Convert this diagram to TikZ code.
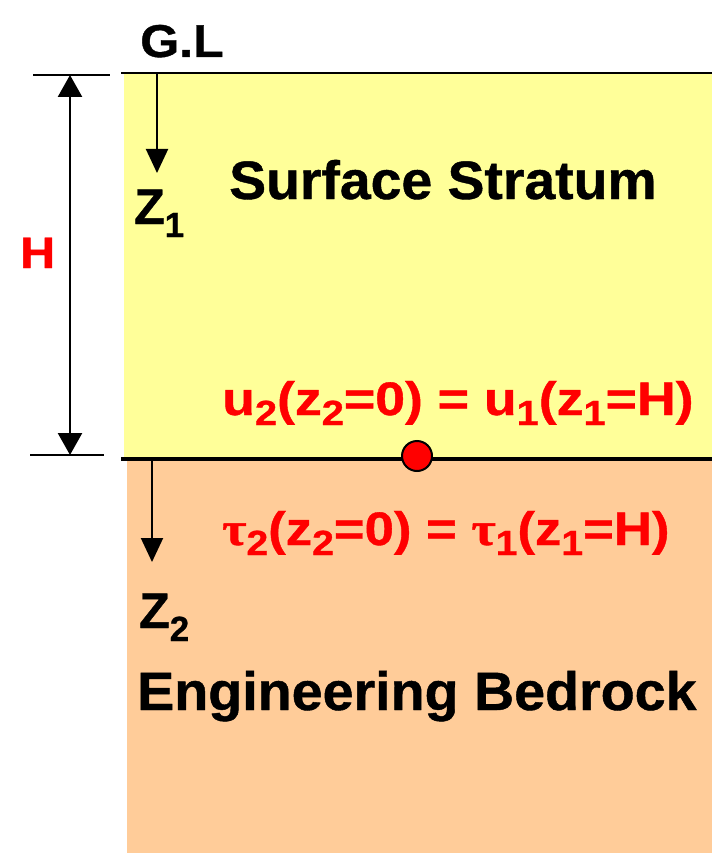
\documentclass[tikz,border=0pt]{standalone}
\usepackage{graphicx}
\usepackage{fontspec}
\setmainfont{Liberation Sans}[BoldFeatures={FakeBold=0.8}]
\newfontfamily\greekserif{Liberation Serif}[BoldFeatures={FakeBold=0.8}]
\usetikzlibrary{arrows.meta}
\definecolor{soilyellow}{RGB}{255,255,153}
\definecolor{rockorange}{RGB}{255,204,153}
\definecolor{eqred}{RGB}{255,0,0}
\newcommand\lowsub[3]{\raisebox{-#1pt}{\fontsize{#2}{#2}\selectfont #3}}
\newcommand\eqsub[1]{\lowsub{10}{35}{#1}}
\newcommand\zsub[1]{\lowsub{13}{35}{#1}}
\newcommand\ztau{{\greekserif\bfseries\char"03C4}}
\newcommand\wide[2]{\scalebox{#1}[1]{#2}}
\begin{document}
\begin{tikzpicture}[x=1pt,y=-1pt,
 lbl/.style={inner sep=0pt, font=\bfseries\fontsize{54}{60}\selectfont, anchor=base west},
 zlbl/.style={inner sep=0pt, font=\bfseries\fontsize{50}{50}\selectfont, anchor=base west},
 eq/.style={inner sep=0pt, text=eqred, font=\bfseries\fontsize{47}{50}\selectfont, anchor=base west},
 dimtick/.style={line width=2pt},
 dimarrow/.style={line width=2.5pt, {Triangle[width=24pt,length=22pt]}-{Triangle[width=24pt,length=22pt]}},
 zarrow/.style={line width=2pt, -{Triangle[width=22pt,length=24pt]}},
]
\useasboundingbox (0,0) rectangle (712,853);
% strata
\fill[soilyellow] (124,73) rectangle (712,457);
\fill[rockorange] (127,460) rectangle (712,853);
\coordinate (glL) at (121,73);
\coordinate (glR) at (712,73);
\coordinate (ifL) at (121,459);
\coordinate (ifR) at (712,459);
\draw[line width=2pt] (glL) -- (glR);
\draw[line width=4.5pt] (ifL) -- (ifR);
% dimension H
\coordinate (tt1) at (33,75);
\coordinate (tt2) at (110,75);
\coordinate (bt1) at (30,455);
\coordinate (bt2) at (104,455);
\draw[dimtick] (tt1) -- (tt2);
\draw[dimtick] (bt1) -- (bt2);
\coordinate (dtop) at (70,75);
\coordinate (dbot) at (70,455);
\draw[dimarrow] (dtop) -- (dbot);
\node[inner sep=0pt, anchor=base west, text=eqred, font=\bfseries\fontsize{44}{50}\selectfont] (H) at (20,268) {\wide{1.1}{H}};
% labels
\node[inner sep=0pt, anchor=base west, font=\bfseries\fontsize{46}{50}\selectfont] (GL) at (140,57) {\wide{1.09}{G.L}};
\coordinate (z1s) at (157,74);
\coordinate (z1e) at (157,173);
\draw[zarrow] (z1s) -- (z1e);
\node[zlbl] (Z1) at (134,224) {Z\zsub{1}};
\node[lbl] (surf) at (229,199) {\wide{1.025}{Surface Stratum}};
\coordinate (z2s) at (152,461);
\coordinate (z2e) at (152,562);
\draw[zarrow] (z2s) -- (z2e);
\node[zlbl] (Z2) at (139,628) {Z\zsub{2}};
\node[lbl] (bed) at (137,710) {\wide{1.03}{Engineering Bedrock}};
% interface conditions
\node[eq] (equ) at (222,415) {\wide{1.14}{u\eqsub{2}(z\eqsub{2}=0) = u\eqsub{1}(z\eqsub{1}=H)}};
\node[eq] (eqt) at (222,545) {\wide{1.12}{\ztau\eqsub{2}(z\eqsub{2}=0) = \ztau\eqsub{1}(z\eqsub{1}=H)}};
\node[circle, fill=eqred, draw=black, line width=2pt, minimum size=30pt, inner sep=0pt] (dot) at (417,456) {};
\end{tikzpicture}
\end{document}
